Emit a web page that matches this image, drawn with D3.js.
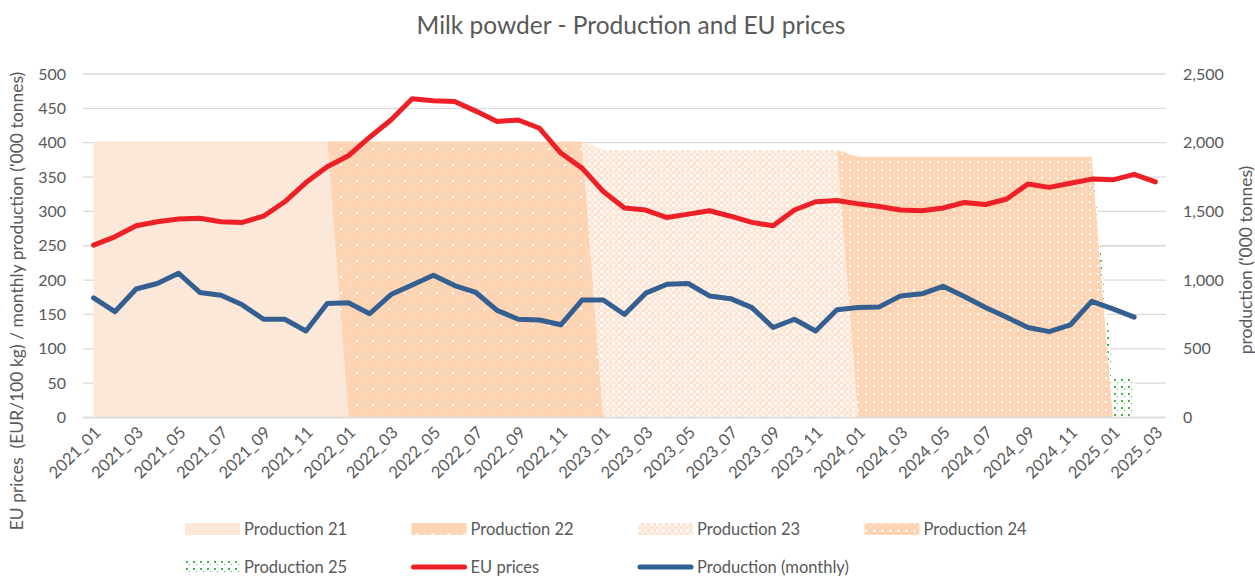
<!DOCTYPE html>
<html>
<head>
<meta charset="utf-8">
<script src="https://cdn.jsdelivr.net/npm/d3@7"></script>
<style>
  body { margin: 0; background: #fff; }
  text { font-family: Lato, "Open Sans", sans-serif; fill: #595959; }
</style>
</head>
<body>
<div id="chart"></div>
<script>
// categories
const months = [
  "2021_01","2021_02","2021_03","2021_04","2021_05","2021_06","2021_07","2021_08","2021_09","2021_10","2021_11","2021_12",
  "2022_01","2022_02","2022_03","2022_04","2022_05","2022_06","2022_07","2022_08","2022_09","2022_10","2022_11","2022_12",
  "2023_01","2023_02","2023_03","2023_04","2023_05","2023_06","2023_07","2023_08","2023_09","2023_10","2023_11","2023_12",
  "2024_01","2024_02","2024_03","2024_04","2024_05","2024_06","2024_07","2024_08","2024_09","2024_10","2024_11","2024_12",
  "2025_01","2025_02","2025_03"
];

// EU prices (EUR/100 kg), left axis
const euPrices = [
  251, 263, 279, 285, 289, 290, 285, 284, 293, 314, 342, 365,
  381, 408, 433, 464, 461, 460, 446, 431, 433, 421, 385, 363,
  329, 305, 302, 291, 296, 301, 293, 284, 279, 302, 314, 316,
  311, 307, 302, 301, 305, 313, 310, 318, 340, 335, 341, 347,
  346, 354, 343
];

// monthly production ('000 tonnes), left axis
const prodMonthly = [
  174, 154, 187, 195, 210, 182, 178, 164, 143, 143, 126, 166,
  167, 151, 179, 193, 207, 192, 182, 156, 143, 142, 135, 171,
  171, 150, 181, 194, 195, 177, 173, 160, 131, 143, 126, 157,
  160, 161, 177, 180, 191, 176, 160, 146, 131, 125, 135, 169,
  158, 146, null
];

// yearly production ('000 tonnes), right axis, stacked areas
const prod21 = [
  2010, 2010, 2010, 2010, 2010, 2010, 2010, 2010, 2010, 2010, 2010, 2010,
  0, null, null, null, null, null, null, null, null, null, null, null,
  null, null, null, null, null, null, null, null, null, null, null, null,
  null, null, null, null, null, null, null, null, null, null, null, null,
  null, null, null
];
const prod22 = [
  null, null, null, null, null, null, null, null, null, null, null, 0,
  2008, 2008, 2008, 2008, 2008, 2008, 2008, 2008, 2008, 2008, 2008, 2008,
  0, null, null, null, null, null, null, null, null, null, null, null,
  null, null, null, null, null, null, null, null, null, null, null, null,
  null, null, null
];
const prod23 = [
  null, null, null, null, null, null, null, null, null, null, null, null,
  null, null, null, null, null, null, null, null, null, null, null, 0,
  1947, 1947, 1947, 1947, 1947, 1947, 1947, 1947, 1947, 1947, 1947, 1947,
  0, null, null, null, null, null, null, null, null, null, null, null,
  null, null, null
];
const prod24 = [
  null, null, null, null, null, null, null, null, null, null, null, null,
  null, null, null, null, null, null, null, null, null, null, null, null,
  null, null, null, null, null, null, null, null, null, null, null, 0,
  1898, 1898, 1898, 1898, 1898, 1898, 1898, 1898, 1898, 1898, 1898, 1898,
  0, null, null
];
const prod25 = [
  null, null, null, null, null, null, null, null, null, null, null, null,
  null, null, null, null, null, null, null, null, null, null, null, null,
  null, null, null, null, null, null, null, null, null, null, null, null,
  null, null, null, null, null, null, null, null, null, null, null, 0,
  302, 302, null
];

const leftTicks = [0, 50, 100, 150, 200, 250, 300, 350, 400, 450, 500];
const rightTicks = [0, 500, 1000, 1500, 2000, 2500];

const width = 1255, height = 577;
const margin = {top: 74, right: 89, bottom: 160, left: 83};

const svg = d3.select("#chart")
    .append("svg")
    .attr("width", width)
    .attr("height", height);

// fill patterns
const defs = svg.append("defs");

const p22 = defs.append("pattern").attr("id", "p22")
    .attr("patternUnits", "userSpaceOnUse").attr("width", 16).attr("height", 16);
p22.append("rect").attr("width", 16).attr("height", 16).attr("fill", "#fdd5b5");
p22.append("rect").attr("x", 4).attr("y", 4).attr("width", 2).attr("height", 2).attr("fill", "#fff");
p22.append("rect").attr("x", 12).attr("y", 12).attr("width", 1).attr("height", 1).attr("fill", "#fff").attr("opacity", 0.8);

const p23 = defs.append("pattern").attr("id", "p23")
    .attr("patternUnits", "userSpaceOnUse").attr("width", 6).attr("height", 6);
p23.append("rect").attr("width", 6).attr("height", 6).attr("fill", "#fde4d2");
p23.append("rect").attr("x", 0).attr("y", 0).attr("width", 3).attr("height", 3).attr("fill", "#fff").attr("opacity", 0.8);
p23.append("rect").attr("x", 3).attr("y", 3).attr("width", 3).attr("height", 3).attr("fill", "#fff").attr("opacity", 0.4);

const p24 = defs.append("pattern").attr("id", "p24")
    .attr("patternUnits", "userSpaceOnUse").attr("width", 8).attr("height", 8);
p24.append("rect").attr("width", 8).attr("height", 8).attr("fill", "#fdd5b5");
p24.append("rect").attr("x", 1).attr("y", 1).attr("width", 2).attr("height", 2).attr("fill", "#fff");
p24.append("rect").attr("x", 5).attr("y", 5).attr("width", 1).attr("height", 1).attr("fill", "#fff").attr("opacity", 0.8);

const p25 = defs.append("pattern").attr("id", "p25")
    .attr("patternUnits", "userSpaceOnUse").attr("width", 7).attr("height", 7);
p25.append("rect").attr("width", 7).attr("height", 7).attr("fill", "#fff");
p25.append("rect").attr("x", 1).attr("y", 1).attr("width", 2).attr("height", 2).attr("fill", "#43b649");
p25.append("rect").attr("x", 4).attr("y", 4).attr("width", 1).attr("height", 1).attr("fill", "#43b649");

// scales
const x = d3.scalePoint()
    .domain(months)
    .range([margin.left, width - margin.right])
    .padding(0.5);

const yLeft = d3.scaleLinear()
    .domain([0, 500])
    .range([height - margin.bottom + 0.5, margin.top]);

const yRight = d3.scaleLinear()
    .domain([0, 2500])
    .range(yLeft.range());

// gridlines
svg.append("g")
    .selectAll("line")
    .data(leftTicks)
    .join("line")
    .attr("x1", margin.left)
    .attr("x2", width - margin.right)
    .attr("y1", d => yLeft(d))
    .attr("y2", d => yLeft(d))
    .attr("stroke", "#d9d9d9")
    .attr("stroke-width", 1.3);

// stacked production areas
const series = [
  {name: "Production 21", values: prod21, fill: "#fce8d9"},
  {name: "Production 22", values: prod22, fill: "url(#p22)"},
  {name: "Production 23", values: prod23, fill: "url(#p23)"},
  {name: "Production 24", values: prod24, fill: "url(#p24)"},
  {name: "Production 25", values: prod25, fill: "url(#p25)"}
];

const table = months.map((m, i) => {
    const row = {month: m};
    series.forEach(s => { row[s.name] = s.values[i]; });
    return row;
});

const stack = d3.stack()
    .keys(series.map(s => s.name))
    .value((d, key) => d[key] == null ? 0 : d[key]);

const stacked = stack(table);

const area = d3.area()
    .x(d => x(d.data.month))
    .y0(d => yRight(d[0]))
    .y1(d => yRight(d[1]));

svg.append("g")
    .selectAll("path")
    .data(stacked)
    .join("path")
    .attr("d", (layer, k) => area.defined(d => d.data[series[k].name] != null)(layer))
    .attr("fill", (layer, k) => series[k].fill);

// bottom axis line
svg.append("line")
    .attr("x1", margin.left)
    .attr("x2", width - margin.right)
    .attr("y1", yLeft(0))
    .attr("y2", yLeft(0))
    .attr("stroke", "#d9d9d9")
    .attr("stroke-width", 1.3);

// lines
const line = d3.line()
    .defined(d => d.v != null)
    .x(d => x(d.m))
    .y(d => yLeft(d.v));

svg.append("path")
    .datum(months.map((m, i) => ({m: m, v: euPrices[i]})))
    .attr("d", line)
    .attr("fill", "none")
    .attr("stroke", "#ee2027")
    .attr("stroke-width", 5)
    .attr("stroke-linejoin", "round")
    .attr("stroke-linecap", "round");

svg.append("path")
    .datum(months.map((m, i) => ({m: m, v: prodMonthly[i]})))
    .attr("d", line)
    .attr("fill", "none")
    .attr("stroke", "#335f91")
    .attr("stroke-width", 5)
    .attr("stroke-linejoin", "round")
    .attr("stroke-linecap", "round");

// left axis
svg.append("g")
    .attr("transform", `translate(${margin.left - 17}, 0)`)
    .call(d3.axisLeft(yLeft).tickValues(leftTicks).tickSize(0).tickPadding(0))
    .call(g => g.select(".domain").remove())
    .selectAll("text")
    .style("font-size", "16px")
    .attr("fill", "#595959");

// right axis
svg.append("g")
    .attr("transform", `translate(${width - margin.right + 17}, 0)`)
    .call(d3.axisRight(yRight).tickValues(rightTicks).tickSize(0).tickPadding(0).tickFormat(d3.format(",")))
    .call(g => g.select(".domain").remove())
    .selectAll("text")
    .style("font-size", "16px")
    .attr("fill", "#595959");

// x axis labels, every other month
svg.append("g")
    .selectAll("text")
    .data(months.filter((m, i) => i % 2 === 0))
    .join("text")
    .attr("transform", d => `translate(${x(d) + 4}, ${yLeft(0) + 12}) rotate(-45)`)
    .attr("text-anchor", "end")
    .attr("dy", "0.35em")
    .style("font-size", "16.5px")
    .text(d => d);

// titles
svg.append("text")
    .attr("x", 631)
    .attr("y", 34)
    .attr("text-anchor", "middle")
    .style("font-size", "24.5px")
    .text("Milk powder - Production and EU prices");

svg.append("text")
    .attr("transform", "translate(23, 301) rotate(-90)")
    .attr("text-anchor", "middle")
    .style("font-size", "17.5px")
    .style("white-space", "pre")
    .text("EU prices  (EUR/100 kg) / monthly production ('000 tonnes)");

svg.append("text")
    .attr("transform", "translate(1252, 260) rotate(-90)")
    .attr("text-anchor", "middle")
    .style("font-size", "17.5px")
    .text("production ('000 tonnes)");

// legend
const legendItems = [
  {name: "Production 21", type: "area", fill: "#fce8d9"},
  {name: "Production 22", type: "area", fill: "url(#p22)"},
  {name: "Production 23", type: "area", fill: "url(#p23)"},
  {name: "Production 24", type: "area", fill: "url(#p24)"},
  {name: "Production 25", type: "area", fill: "url(#p25)"},
  {name: "EU prices", type: "line", color: "#ee2027"},
  {name: "Production (monthly)", type: "line", color: "#335f91"}
];

const legend = svg.append("g")
    .selectAll("g")
    .data(legendItems)
    .join("g")
    .attr("transform", (d, i) => `translate(${185 + (i % 4) * 226.5}, ${529 + Math.floor(i / 4) * 38})`);

legend.filter(d => d.type === "area")
    .append("rect")
    .attr("x", 0)
    .attr("y", -6)
    .attr("width", 55)
    .attr("height", 12)
    .attr("fill", d => d.fill);

legend.filter(d => d.type === "line")
    .append("line")
    .attr("x1", 2)
    .attr("x2", 53)
    .attr("y1", 0)
    .attr("y2", 0)
    .attr("stroke", d => d.color)
    .attr("stroke-width", 5)
    .attr("stroke-linecap", "round");

legend.append("text")
    .attr("x", 59)
    .attr("y", 0)
    .attr("dy", "0.35em")
    .style("font-size", "16.5px")
    .text(d => d.name);
</script>
</body>
</html>
